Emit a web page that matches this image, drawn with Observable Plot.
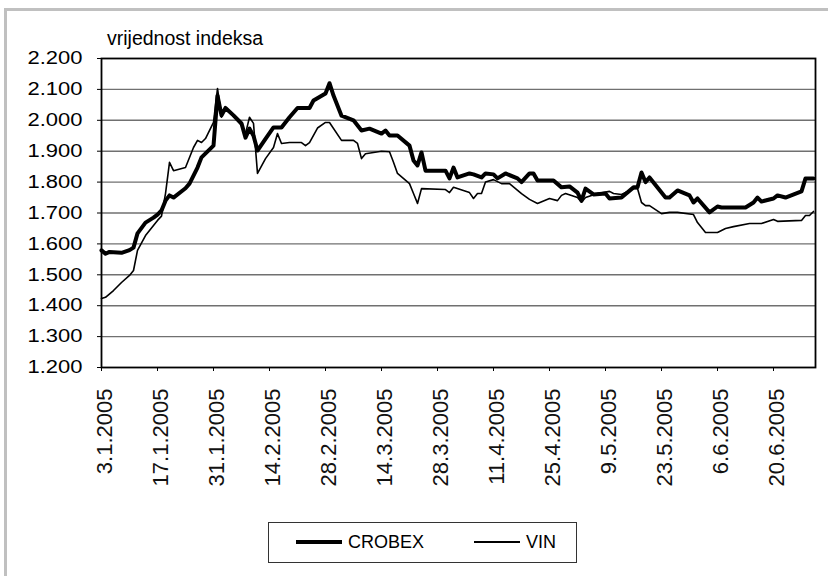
<!DOCTYPE html>
<html>
<head>
<meta charset="utf-8">
<script src="https://cdn.jsdelivr.net/npm/d3@7"></script>
<script src="https://cdn.jsdelivr.net/npm/@observablehq/plot@0.6"></script>
<style>
  html, body { margin: 0; padding: 0; background: #fff; }
  #wrap { position: relative; width: 828px; height: 576px; overflow: hidden; background: #fff; font-family: "Liberation Sans", Arial, sans-serif; }
  #bandTop { position: absolute; left: 4px; top: 8px; width: 824px; height: 3px; background: #c0c0c0; }
  #bandLeft { position: absolute; left: 4px; top: 8px; width: 3px; height: 568px; background: #c0c0c0; }
  #title { position: absolute; left: 107px; top: 28px; font-size: 19.5px; line-height: 21px; color: #000; white-space: nowrap; }
  #chart { position: absolute; left: 0; top: 0; }
  #legend { position: absolute; left: 268px; top: 522px; width: 307px; height: 39px; border: 1px solid #333; box-sizing: content-box; }
  .sw { position: absolute; background: #000; }
  .lt { position: absolute; font-size: 18px; line-height: 20px; color: #000; white-space: nowrap; }
</style>
</head>
<body>
<div id="wrap">
  <div id="bandTop"></div>
  <div id="bandLeft"></div>
  <div id="chart"></div>
  <div id="title">vrijednost indeksa</div>
  <div id="legend">
    <div class="sw" style="left:27px; top:17px; width:46px; height:4px;"></div>
    <div class="lt" style="left:79px; top:9px;">CROBEX</div>
    <div class="sw" style="left:205px; top:18px; width:46px; height:1.5px;"></div>
    <div class="lt" style="left:257px; top:9px;">VIN</div>
  </div>
</div>
<script>
// ---- data ----
const crobexDates = [
  "2005-01-03","2005-01-04","2005-01-05","2005-01-08","2005-01-10","2005-01-11","2005-01-12","2005-01-14",
  "2005-01-16","2005-01-17","2005-01-18","2005-01-19","2005-01-20","2005-01-21","2005-01-24","2005-01-25",
  "2005-01-27","2005-01-28","2005-01-31","2005-02-01","2005-02-02","2005-02-03","2005-02-05","2005-02-07",
  "2005-02-08","2005-02-09","2005-02-10","2005-02-11","2005-02-13","2005-02-15","2005-02-17","2005-02-19",
  "2005-02-21","2005-02-24","2005-02-25","2005-02-28","2005-03-01","2005-03-02","2005-03-04","2005-03-07",
  "2005-03-09","2005-03-11","2005-03-14","2005-03-15","2005-03-16","2005-03-18","2005-03-21","2005-03-22",
  "2005-03-23","2005-03-24","2005-03-25","2005-03-30","2005-03-31","2005-04-01","2005-04-02","2005-04-05",
  "2005-04-06","2005-04-08","2005-04-09","2005-04-11","2005-04-12","2005-04-14","2005-04-17","2005-04-18",
  "2005-04-20","2005-04-21","2005-04-22","2005-04-26","2005-04-28","2005-04-30","2005-05-02","2005-05-03",
  "2005-05-04","2005-05-06","2005-05-09","2005-05-10","2005-05-13","2005-05-16","2005-05-17","2005-05-18",
  "2005-05-19","2005-05-20","2005-05-24","2005-05-25","2005-05-27","2005-05-30","2005-05-31","2005-06-01",
  "2005-06-04","2005-06-06","2005-06-07","2005-06-13","2005-06-15","2005-06-16","2005-06-17","2005-06-20",
  "2005-06-21","2005-06-23","2005-06-27","2005-06-28","2005-06-30"
];
const crobexValues = [
  1579,1568,1574,1571,1580,1588,1634,1669,
  1685,1695,1708,1740,1757,1750,1780,1795,
  1847,1880,1918,2080,2016,2040,2016,1990,
  1944,1973,1950,1902,1940,1977,1977,2010,
  2040,2040,2064,2087,2120,2080,2015,2000,
  1967,1973,1957,1967,1951,1951,1918,1870,
  1854,1896,1837,1837,1812,1847,1815,1828,
  1825,1815,1828,1825,1812,1828,1812,1800,
  1828,1828,1805,1805,1783,1786,1766,1740,
  1779,1760,1763,1747,1750,1783,1783,1831,
  1800,1815,1750,1750,1773,1757,1734,1747,
  1702,1721,1718,1718,1734,1750,1737,1747,
  1757,1750,1770,1812,1812
];
const vinDates = [
  "2005-01-03","2005-01-04","2005-01-06","2005-01-08","2005-01-10","2005-01-11","2005-01-12","2005-01-14",
  "2005-01-17","2005-01-18","2005-01-19","2005-01-20","2005-01-21","2005-01-24","2005-01-26","2005-01-27",
  "2005-01-28","2005-01-29","2005-01-31","2005-02-01","2005-02-02","2005-02-03","2005-02-07","2005-02-08",
  "2005-02-09","2005-02-10","2005-02-11","2005-02-13","2005-02-15","2005-02-16","2005-02-17","2005-02-19",
  "2005-02-22","2005-02-23","2005-02-24","2005-02-26","2005-02-28","2005-03-01","2005-03-04","2005-03-07",
  "2005-03-08","2005-03-09","2005-03-10","2005-03-14","2005-03-16","2005-03-17","2005-03-18","2005-03-21",
  "2005-03-22","2005-03-23","2005-03-24","2005-03-30","2005-03-31","2005-04-01","2005-04-05","2005-04-06",
  "2005-04-07","2005-04-08","2005-04-09","2005-04-11","2005-04-13","2005-04-15","2005-04-18","2005-04-20",
  "2005-04-22","2005-04-25","2005-04-27","2005-04-28","2005-04-29","2005-05-02","2005-05-03","2005-05-04",
  "2005-05-07","2005-05-10","2005-05-11","2005-05-13","2005-05-16","2005-05-17","2005-05-18","2005-05-19",
  "2005-05-20","2005-05-23","2005-05-25","2005-05-27","2005-05-31","2005-06-01","2005-06-03","2005-06-06",
  "2005-06-08","2005-06-10","2005-06-14","2005-06-17","2005-06-20","2005-06-21","2005-06-27","2005-06-28",
  "2005-06-29","2005-06-30"
];
const vinValues = [
  1423,1427,1449,1475,1498,1514,1579,1627,
  1676,1690,1763,1864,1837,1847,1912,1935,
  1928,1941,1993,2103,2010,2040,1983,1957,
  2010,1990,1828,1876,1912,1957,1925,1928,
  1928,1918,1928,1975,1993,1993,1935,1935,
  1925,1876,1892,1900,1898,1864,1828,1795,
  1763,1731,1779,1776,1766,1783,1766,1747,
  1763,1763,1800,1808,1795,1795,1763,1744,
  1731,1747,1740,1757,1763,1750,1735,1750,
  1763,1770,1763,1760,1779,1779,1734,1724,
  1724,1698,1702,1702,1695,1669,1637,1637,
  1650,1656,1666,1666,1679,1673,1676,1692,
  1692,1705
];
const xTickDates = ["2005-01-03","2005-01-17","2005-01-31","2005-02-14","2005-02-28","2005-03-14","2005-03-28",
  "2005-04-11","2005-04-25","2005-05-09","2005-05-23","2005-06-06","2005-06-20"];
const yTicks = [1200,1300,1400,1500,1600,1700,1800,1900,2000,2100,2200];
const yGrid = [1300,1400,1500,1600,1700,1800,1900,2000,2100];

// ---- build tables ----
const crobex = crobexDates.map((d, i) => ({date: new Date(d + "T00:00:00Z"), value: crobexValues[i]}));
const vin = vinDates.map((d, i) => ({date: new Date(d + "T00:00:00Z"), value: vinValues[i]}));
const xTicks = xTickDates.map(d => new Date(d + "T00:00:00Z"));

const hr = d3.formatLocale({decimal: ",", thousands: ".", grouping: [3], currency: ["", ""]});
const yFmt = hr.format(",d");
const xFmt = d => `${d.getUTCDate()}.${d.getUTCMonth() + 1}.${d.getUTCFullYear()}`;

const chart = Plot.plot({
  width: 828,
  height: 500,
  marginLeft: 101,
  marginRight: 13,
  marginTop: 58,
  marginBottom: 133,
  style: {fontFamily: "'Liberation Sans', Arial, sans-serif", fontSize: "18px", color: "#000", background: "transparent", overflow: "visible"},
  x: {type: "utc", domain: [new Date("2005-01-03T00:00:00Z"), new Date("2005-06-30T12:00:00Z")],
      ticks: xTicks, tickFormat: xFmt, tickRotate: -90, tickSize: 4, tickPadding: 12, label: null},
  y: {domain: [1200, 2200], ticks: yTicks, tickFormat: yFmt, tickSize: 4, tickPadding: 15, label: null},
  marks: [
    Plot.ruleY(yGrid, {stroke: "#707070", strokeWidth: 1.4}),
    Plot.frame({stroke: "#000", strokeWidth: 1.8}),
    Plot.line(vin, {x: "date", y: "value", stroke: "#000", strokeWidth: 1.6}),
    Plot.line(crobex, {x: "date", y: "value", stroke: "#000", strokeWidth: 4})
  ]
});
document.getElementById("chart").appendChild(chart);

// typography tweaks on tick labels
chart.querySelectorAll("text").forEach(t => {
  const s = t.textContent;
  if (s.includes("2005")) {
    t.setAttribute("font-size", "22px");
    t.style.fontSize = "22px";
    t.style.fill = "#111";
    const tr = t.getAttribute("transform") || "";
    t.setAttribute("transform", "translate(3,5) " + tr);
  } else if (/^\d\.\d{3}$/.test(s)) {
    t.style.fontSize = "18px";
    t.setAttribute("textLength", "55");
    t.setAttribute("lengthAdjust", "spacingAndGlyphs");
  }
});
</script>
</body>
</html>
